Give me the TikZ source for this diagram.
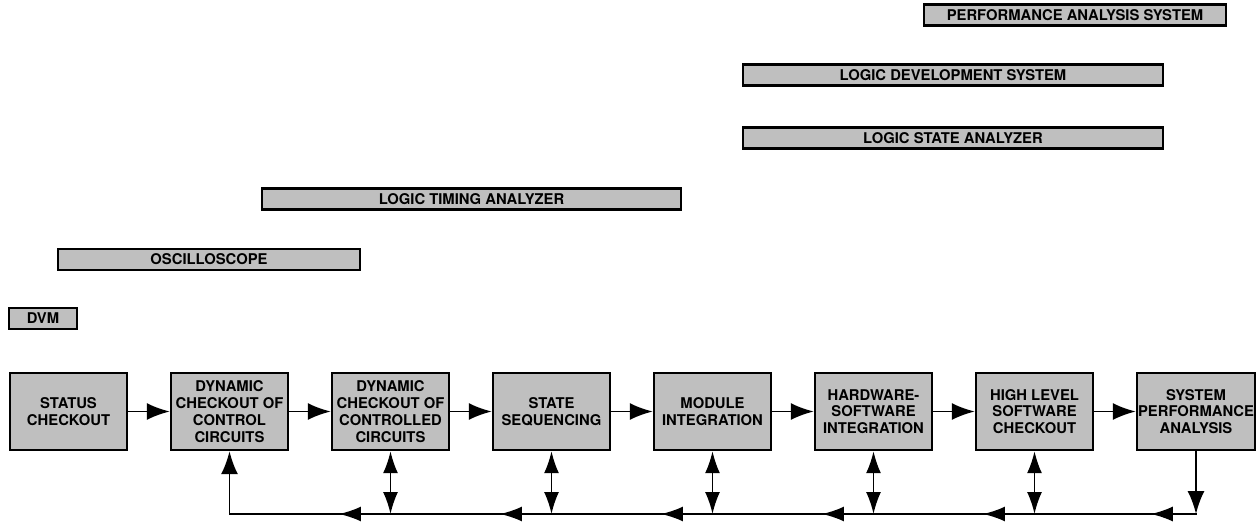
\documentclass[tikz,border=0pt]{standalone}
\usepackage{fontspec}
\setmainfont{TeX Gyre Heros}
\usetikzlibrary{arrows.meta,positioning,decorations.markings}

\begin{document}
\begin{tikzpicture}[x = 1pt, y = -1pt,
    every node/.style = {font = \bfseries\fontsize{14.8}{16.8}\selectfont},
    tool/.style = {draw, fill = black!25, line width = 2.4pt, minimum height = 21pt, inner sep = 0pt},
    stage/.style = {draw, fill = black!25, line width = 2.4pt, minimum width = 117pt, minimum height = 77pt, inner sep = 0.5pt, align = center},
    flow/.style = {line width = 1.8pt, -{Latex[length = 23pt, width = 17pt]}},
    twoway/.style = {line width = 1.8pt, {Latex[length = 22pt, width = 15pt]}-{Latex[length = 22pt, width = 15pt]}},
    buswire/.style = {line width = 1.8pt, line cap = rect, postaction = decorate,
        decoration = {markings, mark = at position #1 with {\arrow{Latex[length = 22pt, width = 15pt]}}}}]
    \useasboundingbox (0,0) rectangle (1258,522);
    % tools
    \node[tool, minimum width = 302pt](pas)at(1075,15){PERFORMANCE ANALYSIS SYSTEM};
    \node[tool, minimum width = 420pt](lds)at(953,75){LOGIC DEVELOPMENT SYSTEM};
    \node[tool, minimum width = 420pt](lsa)at(953,138){LOGIC STATE ANALYZER};
    \node[tool, minimum width = 419pt](lta)at(471.5,199){LOGIC TIMING ANALYZER};
    \node[tool, minimum width = 302pt](osc)at(209,259.5){OSCILLOSCOPE};
    \node[tool, minimum width = 68pt](dvm)at(43,318.5){DVM};
    % stages
    \node[stage](s1)at(68.5,411.5){STATUS\\CHECKOUT};
    \node[stage, right = 41.6pt of s1](s2){DYNAMIC\\CHECKOUT OF\\CONTROL\\CIRCUITS};
    \node[stage, right = 41.6pt of s2](s3){DYNAMIC\\CHECKOUT OF\\CONTROLLED\\CIRCUITS};
    \node[stage, right = 41.6pt of s3](s4){STATE\\SEQUENCING};
    \node[stage, right = 41.6pt of s4](s5){MODULE\\INTEGRATION};
    \node[stage, right = 41.6pt of s5](s6){HARDWARE-\\SOFTWARE\\INTEGRATION};
    \node[stage, right = 41.6pt of s6](s7){HIGH LEVEL\\SOFTWARE\\CHECKOUT};
    \node[stage, right = 41.6pt of s7, minimum width = 118pt](s8){SYSTEM\\PERFORMANCE\\ANALYSIS};
    \foreach \a/\b in {s1/s2, s2/s3, s3/s4, s4/s5, s5/s6, s6/s7, s7/s8}
        \path[draw, flow](\a)--(\b);
    % bus
    \foreach \s in {2,...,8}
        \coordinate(j\s)at(s\s.south |- 0,514);
    \foreach \s in {3,...,7}
        \path[draw, twoway](s\s.south)--(j\s);
    \path[draw, flow](s8.south)--(j8);
    \path[draw, buswire = 0.28](j8)--(j7);
    \foreach \a/\b in {j7/j6, j6/j5, j5/j4, j4/j3, j3/j2}
        \path[draw, buswire = 0.32](\a)--(\b);
    \path[draw, flow](j2)--(s2.south);
\end{tikzpicture}
\end{document}
